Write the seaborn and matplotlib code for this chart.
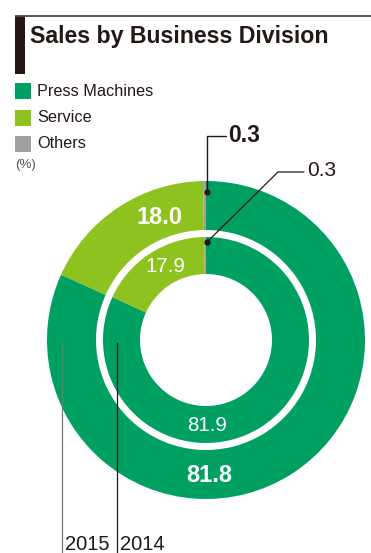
import matplotlib
matplotlib.use("Agg")
import matplotlib.pyplot as plt
import seaborn as sns

sns.set_theme(style="white")
plt.rcParams['font.family'] = ['Liberation Sans', 'DejaVu Sans']

categories = ["Others", "Service", "Press Machines"]
values_2015 = [0.3, 18.0, 81.8]
values_2014 = [0.3, 17.9, 81.9]
years = ["2015", "2014"]
legend_labels = ["Press Machines", "Service", "Others"]
colors = {"Press Machines": "#00A063", "Service": "#8DC21F", "Others": "#A0A0A0"}
dark = "#231815"

W, H = 371, 553
fig = plt.figure(figsize=(W / 100, H / 100), dpi=100)
ax = fig.add_axes([0, 0, 1, 1])

def py(y):
    return H - y

cx, cy = 206, py(340)
cols = [colors[c] for c in categories]

ax.pie(values_2015, colors=cols, startangle=90, counterclock=True,
       radius=159, center=(cx, cy), wedgeprops=dict(width=49, linewidth=0),
       frame=True)
ax.pie(values_2014, colors=cols, startangle=90, counterclock=True,
       radius=103, center=(cx, cy), wedgeprops=dict(width=37, linewidth=0),
       frame=True)

ax.set_xlim(0, W)
ax.set_ylim(0, H)
ax.set_aspect("equal")
ax.axis("off")

# header
ax.plot([15, W], [py(15.5), py(15.5)], color="#4a4a4a", lw=1.3, solid_capstyle="butt")
ax.add_patch(plt.Rectangle((15, py(74)), 10, 58, color=dark, lw=0))
ax.text(30, py(37), "Sales by Business Division", fontsize=16.7, fontweight="bold",
        color=dark, va="center", ha="left")

# legend
for i, lab in enumerate(legend_labels):
    y0 = 83 + i * 26.5
    ax.add_patch(plt.Rectangle((15, py(y0 + 16)), 16, 16, color=colors[lab], lw=0))
    ax.text(37, py(y0 + 8), lab, fontsize=11.7, color=dark, va="center", ha="left")
ax.text(15, py(165), "(%)", fontsize=9.5, color="#555555", va="center", ha="left")

# labels inside rings
ax.text(159, py(217), f"{values_2015[1]:.1f}", fontsize=17, fontweight="bold",
        color="white", ha="center", va="center")
ax.text(165, py(267), f"{values_2014[1]:.1f}", fontsize=14.8,
        color="white", ha="center", va="center")
ax.text(207, py(425.5), f"{values_2014[2]:.1f}", fontsize=14.8,
        color="white", ha="center", va="center")
ax.text(209, py(475), f"{values_2015[2]:.1f}", fontsize=17, fontweight="bold",
        color="white", ha="center", va="center")

# leader lines for Others
ax.plot([207, 207, 226], [py(192), py(136), py(136)], color=dark, lw=1)
ax.plot(207, py(192), "o", color=dark, ms=3.5)
ax.text(228, py(135), f"{values_2015[0]:.1f}", fontsize=16.5, fontweight="bold",
        color=dark, ha="left", va="center")
ax.plot([207, 278, 304], [py(242), py(172), py(172)], color=dark, lw=0.9)
ax.plot(207, py(242), "o", color=dark, ms=3.5)
ax.text(307, py(171), f"{values_2014[0]:.1f}", fontsize=15,
        color=dark, ha="left", va="center")

# year lines
for x, yr, c in [(62, years[0], "#777777"), (117, years[1], dark)]:
    ax.plot([x, x], [py(343), 0], color=c, lw=0.9)
    ax.text(x + 3, py(544), yr, fontsize=14.5, color=dark, ha="left", va="center")

fig.savefig("out.png", dpi=100)
